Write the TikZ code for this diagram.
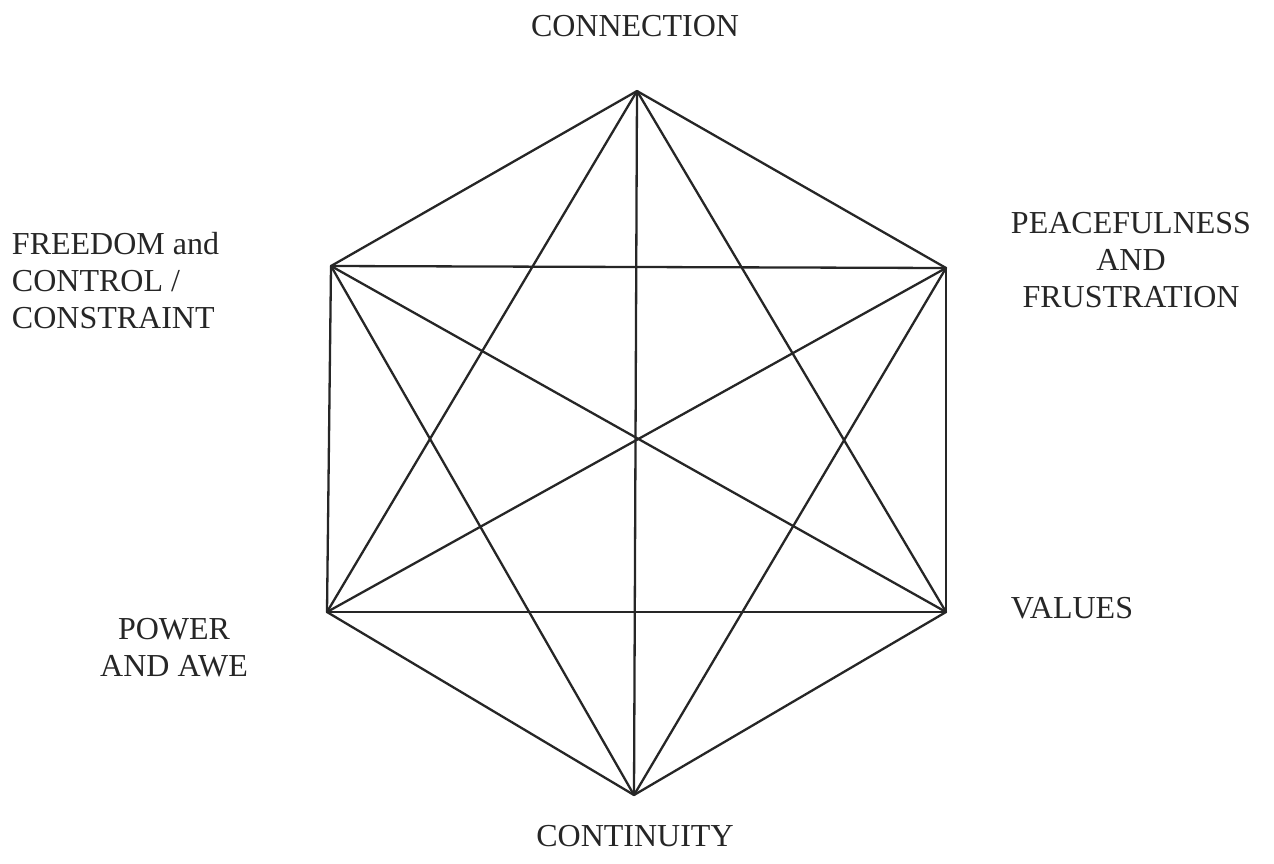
\documentclass[tikz,border=0pt]{standalone}
\usepackage{fontspec}
\setmainfont{Liberation Serif}
\begin{document}
\begin{tikzpicture}[x=1pt,y=-1pt,
  lbl/.style={inner sep=0pt,outer sep=0pt,font=\fontsize{32}{37}\selectfont,text=black!85},
  edge/.style={draw=black!85,line width=2.3pt,line join=round,line cap=round}]
\useasboundingbox (0,0) rectangle (1274,863);
\coordinate (T) at (637,91);
\coordinate (UL) at (331,266);
\coordinate (UR) at (946,268);
\coordinate (LL) at (327,612);
\coordinate (LR) at (946,612);
\coordinate (B) at (634,795);
\foreach \a/\b in {T/UL,T/UR,T/LL,T/LR,T/B,UL/UR,UL/LL,UL/LR,UL/B,UR/LL,UR/LR,UR/B,LL/LR,LL/B,LR/B}
  \draw[edge] (\a) -- (\b);
\node[lbl,anchor=north] (conn) at (635,15) {CONNECTION};
\node[lbl,anchor=north west,align=left] (free) at (12,232) {FREEDOM and\\CONTROL /\\CONSTRAINT};
\node[lbl,anchor=north,align=center] (peace) at (1131,212) {PEACEFULNESS\\AND\\FRUSTRATION};
\node[lbl,anchor=north,align=center] (power) at (174,618) {POWER\\AND AWE};
\node[lbl,anchor=north] (values) at (1072,597) {VALUES};
\node[lbl,anchor=north] (cont) at (635,825) {CONTINUITY};
\end{tikzpicture}
\end{document}
